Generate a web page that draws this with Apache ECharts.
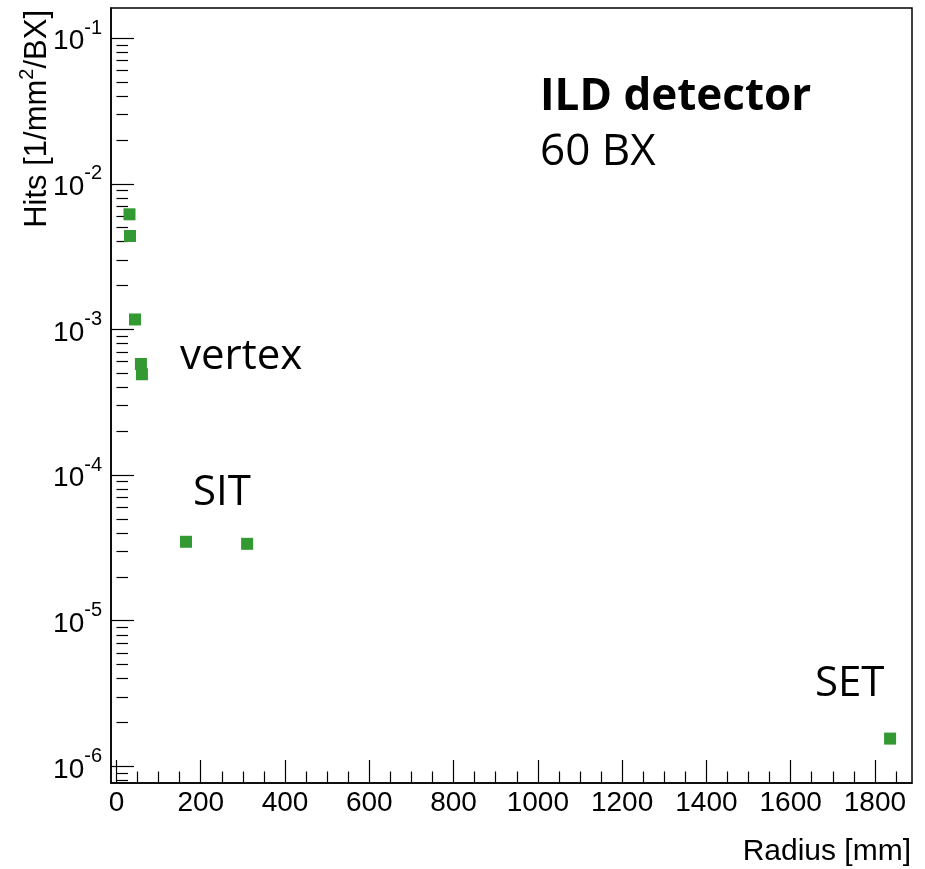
<!DOCTYPE html>
<html>
<head>
<meta charset="utf-8">
<script src="https://cdn.jsdelivr.net/npm/echarts@6/dist/echarts.min.js"></script>
<style>html,body{margin:0;padding:0;background:#fff;}#c{width:925px;height:869px;}</style>
</head>
<body>
<div id="c"></div>
<script>
// ---- data ----
const vertexR = [30.9, 32.1, 44.0, 58.0, 60.4];
const vertexHits = [6.17e-3, 4.38e-3, 1.17e-3, 5.79e-4, 4.92e-4];
const sitR = [165, 310];
const sitHits = [3.48e-5, 3.37e-5];
const setR = [1836];
const setHits = [1.55e-6];

// ---- axes ----
const xMajorTicks = [0, 200, 400, 600, 800, 1000, 1200, 1400, 1600, 1800];
const xMinorTicks = [50,100,150,250,300,350,450,500,550,650,700,750,850,900,950,1050,1100,1150,1250,1300,1350,1450,1500,1550,1650,1700,1750,1850];
const yMajorTicks = [1e-6, 1e-5, 1e-4, 1e-3, 1e-2, 1e-1];
const yMinorTicks = [8e-7, 9e-7,
  2e-6, 3e-6, 4e-6, 5e-6, 6e-6, 7e-6, 8e-6, 9e-6,
  2e-5, 3e-5, 4e-5, 5e-5, 6e-5, 7e-5, 8e-5, 9e-5,
  2e-4, 3e-4, 4e-4, 5e-4, 6e-4, 7e-4, 8e-4, 9e-4,
  2e-3, 3e-3, 4e-3, 5e-3, 6e-3, 7e-3, 8e-3, 9e-3,
  2e-2, 3e-2, 4e-2, 5e-2, 6e-2, 7e-2, 8e-2, 9e-2];
const xMin = -13, xMax = 1888;
const yMin = 7.68e-7, yMax = 0.161;

function pairs(xs, ys) { return xs.map((x, i) => [x, ys[i]]); }

const chart = echarts.init(document.getElementById('c'), null, {renderer: 'canvas'});
const axisFont = 'Liberation Sans, Arial, Helvetica, sans-serif';
const annFont = 'Open Sans, sans-serif';
const green = '#339933';
const markerStyle = {color: green, opacity: 1};

const option = {
  animation: false,
  backgroundColor: '#fff',
  grid: {left: 111, right: 13, top: 8, bottom: 86, show: true, borderColor: '#000', borderWidth: 1.5, outerBoundsMode: 'none'},
  xAxis: [{
    type: 'value', min: xMin, max: xMax, position: 'bottom',
    axisLine: {show: true, onZero: false, lineStyle: {color: '#000', width: 1.5}},
    axisTick: {show: true, inside: true, length: 23, customValues: xMajorTicks, lineStyle: {color: '#000', width: 1.2}},
    axisLabel: {show: true, customValues: xMajorTicks, fontSize: 28, color: '#000', fontFamily: axisFont, margin: 6,
      formatter: function (v) { return String(v); }},
    splitLine: {show: false}
  }, {
    type: 'value', min: xMin, max: xMax, position: 'bottom',
    axisLine: {show: false},
    axisTick: {show: true, inside: true, length: 11.5, customValues: xMinorTicks, lineStyle: {color: '#000', width: 1.2}},
    axisLabel: {show: false},
    splitLine: {show: false}
  }],
  yAxis: [{
    type: 'log', min: yMin, max: yMax, position: 'left',
    axisLine: {show: true, onZero: false, lineStyle: {color: '#000', width: 1.5}},
    axisTick: {show: true, inside: true, length: 23, customValues: yMajorTicks, lineStyle: {color: '#000', width: 1.2}},
    axisLabel: {
      show: true, customValues: yMajorTicks, margin: 9, color: '#000', fontFamily: axisFont,
      formatter: function (v) { const e = Math.round(Math.log10(v)); return '{b|10}{s|' + e + '}'; },
      rich: {
        b: {fontSize: 28, lineHeight: 40, fontFamily: axisFont, color: '#000', padding: [7, 0, 0, 0]},
        s: {fontSize: 20, lineHeight: 20, verticalAlign: 'top', fontFamily: axisFont, color: '#000'}
      }
    },
    splitLine: {show: false}
  }, {
    type: 'log', min: yMin, max: yMax, position: 'left',
    axisLine: {show: false},
    axisTick: {show: true, inside: true, length: 11.5, customValues: yMinorTicks, lineStyle: {color: '#000', width: 1.2}},
    axisLabel: {show: false},
    splitLine: {show: false}
  }],
  series: [
    {name: 'vertex', type: 'scatter', xAxisIndex: 0, yAxisIndex: 0, symbol: 'rect', symbolSize: 12, itemStyle: markerStyle, data: pairs(vertexR, vertexHits)},
    {name: 'SIT', type: 'scatter', xAxisIndex: 0, yAxisIndex: 0, symbol: 'rect', symbolSize: 12, itemStyle: markerStyle, data: pairs(sitR, sitHits)},
    {name: 'SET', type: 'scatter', xAxisIndex: 0, yAxisIndex: 0, symbol: 'rect', symbolSize: 12, itemStyle: markerStyle, data: pairs(setR, setHits)}
  ],
  graphic: [
    {type: 'text', x: 37, y: 10, rotation: Math.PI / 2, style: {
      text: '{a|Hits [1/mm}{s|2}{a|/BX]}', fontFamily: axisFont, fill: '#000', align: 'right', verticalAlign: 'middle',
      rich: {a: {fontSize: 31, lineHeight: 40, fontFamily: axisFont}, s: {fontSize: 20, lineHeight: 20, verticalAlign: 'top', fontFamily: axisFont}}
    }},
    {type: 'text', x: 911, y: 852, style: {text: 'Radius [mm]', fontSize: 30, fontFamily: axisFont, fill: '#000', align: 'right', verticalAlign: 'middle'}},
    {type: 'text', x: 540, y: 97, style: {text: 'ILD detector', fontSize: 44, fontWeight: 'bold', fontFamily: annFont, fill: '#000', align: 'left', verticalAlign: 'middle'}},
    {type: 'text', x: 540, y: 152, style: {text: '60 BX', fontSize: 44, fontFamily: annFont, fill: '#000', align: 'left', verticalAlign: 'middle'}},
    {type: 'text', x: 180, y: 357, style: {text: 'vertex', fontSize: 42, fontFamily: annFont, fill: '#000', align: 'left', verticalAlign: 'middle'}},
    {type: 'text', x: 193, y: 493, style: {text: 'SIT', fontSize: 42, fontFamily: annFont, fill: '#000', align: 'left', verticalAlign: 'middle'}},
    {type: 'text', x: 815, y: 684, style: {text: 'SET', fontSize: 42, fontFamily: annFont, fill: '#000', align: 'left', verticalAlign: 'middle'}}
  ]
};
chart.setOption(option);
</script>
</body>
</html>
